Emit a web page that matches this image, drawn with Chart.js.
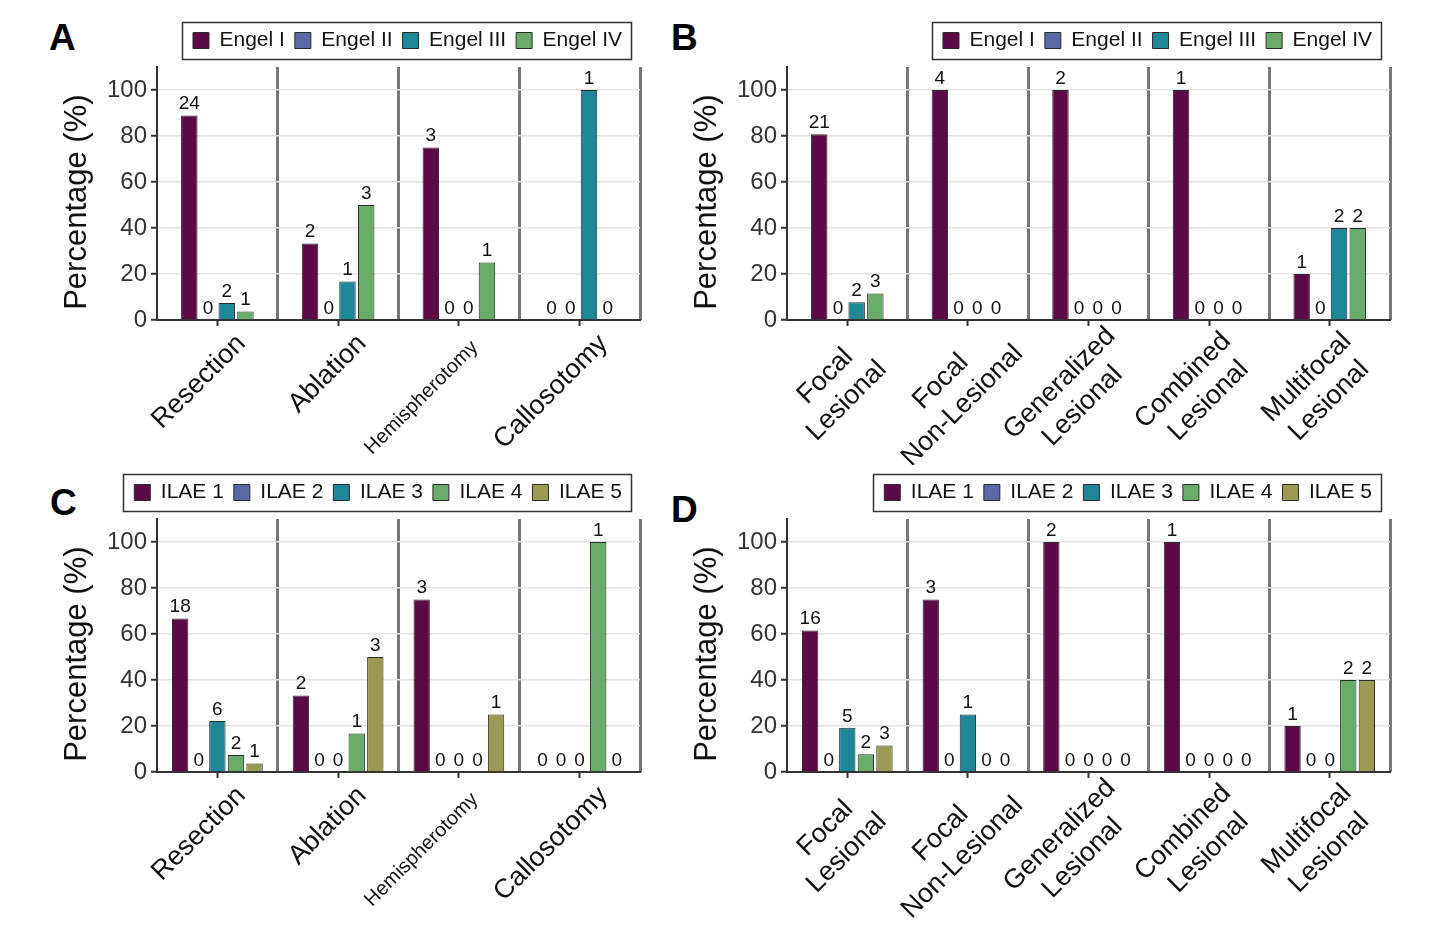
<!DOCTYPE html>
<html><head><meta charset="utf-8">
<script src="https://cdn.jsdelivr.net/npm/chart.js@4.4.1/dist/chart.umd.min.js"></script>
<style>
body{margin:0;background:#fff;width:1430px;height:929px;position:relative;overflow:hidden;font-family:'Liberation Sans',Arial,sans-serif}
.pl{position:absolute;font-weight:bold;font-size:37px;color:#000;line-height:1}
.cv{position:absolute}
</style></head><body>
<div class="pl" style="left:49px;top:19px">A</div>
<div class="pl" style="left:671px;top:19px">B</div>
<div class="pl" style="left:50px;top:484px">C</div>
<div class="pl" style="left:671px;top:491px">D</div>
<canvas class="cv" id="cA" width="615" height="465" style="left:40px;top:0px"></canvas>
<canvas class="cv" id="cB" width="735" height="465" style="left:670px;top:0px"></canvas>
<canvas class="cv" id="cC" width="615" height="477" style="left:40px;top:452px"></canvas>
<canvas class="cv" id="cD" width="735" height="477" style="left:670px;top:452px"></canvas>
<script>
// ---- categories / labels ----
const surgeryCategories = ['Resection', 'Ablation', 'Hemispherotomy', 'Callosotomy'];
const etiologyCategories = [['Focal', 'Lesional'], ['Focal', 'Non-Lesional'], ['Generalized', 'Lesional'], ['Combined', 'Lesional'], ['Multifocal', 'Lesional']];
const engelNames = ['Engel I', 'Engel II', 'Engel III', 'Engel IV'];
const ilaeNames = ['ILAE 1', 'ILAE 2', 'ILAE 3', 'ILAE 4', 'ILAE 5'];
const yTickValues = [0, 20, 40, 60, 80, 100];

// ---- Panel A: Engel by surgery type (percentage, count) ----
const aEngel1Pct = [88.9, 33.3, 75, 0];   const aEngel1N = [24, 2, 3, 0];
const aEngel2Pct = [0, 0, 0, 0];          const aEngel2N = [0, 0, 0, 0];
const aEngel3Pct = [7.4, 16.7, 0, 100];   const aEngel3N = [2, 1, 0, 1];
const aEngel4Pct = [3.7, 50, 25, 0];      const aEngel4N = [1, 3, 1, 0];

// ---- Panel B: Engel by etiology ----
const bEngel1Pct = [80.8, 100, 100, 100, 20]; const bEngel1N = [21, 4, 2, 1, 1];
const bEngel2Pct = [0, 0, 0, 0, 0];           const bEngel2N = [0, 0, 0, 0, 0];
const bEngel3Pct = [7.7, 0, 0, 0, 40];        const bEngel3N = [2, 0, 0, 0, 2];
const bEngel4Pct = [11.5, 0, 0, 0, 40];       const bEngel4N = [3, 0, 0, 0, 2];

// ---- Panel C: ILAE by surgery type ----
const cIlae1Pct = [66.7, 33.3, 75, 0];   const cIlae1N = [18, 2, 3, 0];
const cIlae2Pct = [0, 0, 0, 0];          const cIlae2N = [0, 0, 0, 0];
const cIlae3Pct = [22.2, 0, 0, 0];       const cIlae3N = [6, 0, 0, 0];
const cIlae4Pct = [7.4, 16.7, 0, 100];   const cIlae4N = [2, 1, 0, 1];
const cIlae5Pct = [3.7, 50, 25, 0];      const cIlae5N = [1, 3, 1, 0];

// ---- Panel D: ILAE by etiology ----
const dIlae1Pct = [61.5, 75, 100, 100, 20]; const dIlae1N = [16, 3, 2, 1, 1];
const dIlae2Pct = [0, 0, 0, 0, 0];          const dIlae2N = [0, 0, 0, 0, 0];
const dIlae3Pct = [19.2, 25, 0, 0, 0];      const dIlae3N = [5, 1, 0, 0, 0];
const dIlae4Pct = [7.7, 0, 0, 0, 40];       const dIlae4N = [2, 0, 0, 0, 2];
const dIlae5Pct = [11.5, 0, 0, 0, 40];      const dIlae5N = [3, 0, 0, 0, 2];

const engelColors = ['#5c0a46', '#5b68a6', '#1e8797', '#69ab69'];
const ilaeColors = ['#5c0a46', '#5b68a6', '#1e8797', '#69ab69', '#9c9a52'];

const FONT = "'Liberation Sans', Arial, sans-serif";
const XFONT = 27;
const XFONT_SMALL = 20;

// text measuring helper (only used to justify multi-line tick labels)
const measureCtx = document.createElement('canvas').getContext('2d');
function textW(s, size) { measureCtx.font = size + 'px ' + FONT; return measureCtx.measureText(s).width; }
function blockW(lines, size) { return Math.max.apply(null, lines.map(s => textW(s, size))); }
const etiologyMaxW = Math.max.apply(null, etiologyCategories.map(l => blockW(l, XFONT)));
// centre the lines of a two-line label; shorter blocks are nudged back along the text
function centerLines(lines, size) {
  const w = lines.map(s => textW(s, size));
  const maxW = Math.max.apply(null, w);
  const sp = textW(' ', size);
  const extra = Math.round(0.35 * (etiologyMaxW - maxW) / sp);
  return lines.map((s, i) => s + ' '.repeat(Math.max(0, Math.round((maxW - w[i]) / 2 / sp)) + extra));
}

const countLabels = {
  id: 'countLabels',
  afterDatasetsDraw(chart) {
    const ctx = chart.ctx;
    ctx.save();
    ctx.font = '19px ' + FONT;
    ctx.fillStyle = '#111';
    ctx.textAlign = 'center';
    ctx.textBaseline = 'bottom';
    chart.data.datasets.forEach((ds, i) => {
      const meta = chart.getDatasetMeta(i);
      meta.data.forEach((el, j) => {
        ctx.fillText(String(ds.counts[j]), el.x, el.y - 2);
      });
    });
    ctx.restore();
  }
};

const LEGEND_SHIFT = 8;
const legendBox = {
  id: 'legendBox',
  afterUpdate(chart) {
    const lg = chart.legend;
    if (!lg || !lg.legendHitBoxes) return;
    lg.left -= LEGEND_SHIFT;
    lg.right -= LEGEND_SHIFT;
    lg.legendHitBoxes.forEach(h => { h.left -= LEGEND_SHIFT; });
  },
  afterDraw(chart) {
    const lg = chart.legend;
    if (!lg || !lg.legendHitBoxes || !lg.legendHitBoxes.length) return;
    let l = Infinity, r = -Infinity, t = Infinity, b = -Infinity;
    lg.legendHitBoxes.forEach(h => {
      l = Math.min(l, h.left); r = Math.max(r, h.left + h.width);
      t = Math.min(t, h.top); b = Math.max(b, h.top + h.height);
    });
    const ctx = chart.ctx;
    ctx.save();
    ctx.strokeStyle = '#333';
    ctx.lineWidth = 1.5;
    ctx.strokeRect(Math.round(l - 11) + 0.5, Math.round(t - 8) + 0.5, Math.round(r - l + 20), Math.round(b - t + 16));
    ctx.restore();
  }
};

function makeChart(id, labels, names, pcts, counts, colors, catPct, smallIdx, canvasH, labelShift, labelPad) {
  const datasets = names.map((n, i) => ({
    label: n,
    data: pcts[i],
    counts: counts[i],
    backgroundColor: colors[i],
    borderColor: '#2a2a2a',
    borderWidth: ctx => (ctx.raw === 0 ? 0 : 1),
    categoryPercentage: catPct,
    barPercentage: 0.88
  }));
  const nCat = labels.length;
  return new Chart(document.getElementById(id), {
    type: 'bar',
    data: { labels: labels, datasets: datasets },
    plugins: [countLabels, legendBox],
    options: {
      responsive: false,
      animation: false,
      devicePixelRatio: 1,
      layout: { padding: { top: 20, right: 15, left: 0, bottom: 0 } },
      plugins: {
        tooltip: { enabled: false },
        legend: {
          position: 'top',
          align: 'end',
          labels: {
            boxWidth: 16, boxHeight: 16, padding: 10,
            color: '#111',
            font: { family: FONT, size: 21 },
            generateLabels(chart) {
              return chart.data.datasets.map((ds, i) => ({
                text: ds.label, fillStyle: ds.backgroundColor, strokeStyle: '#2a2a2a',
                lineWidth: 1, hidden: false, datasetIndex: i, fontColor: '#111'
              }));
            }
          }
        }
      },
      scales: {
        xsep: {
          type: 'category', axis: 'x', position: 'top', offset: true,
          grid: {
            offset: true, drawTicks: false, lineWidth: 3,
            color: ctx => (ctx.index === 0 || ctx.index === nCat ? 'rgba(0,0,0,0)' : '#777')
          },
          border: { display: false },
          ticks: { display: false },
          afterFit(scale) { scale.height = 6; }
        },
        x: {
          offset: true,
          grid: { offset: false, drawOnChartArea: false, drawTicks: true, tickLength: 6, tickColor: '#333', tickWidth: 2, color: '#333' },
          border: { display: true, color: '#333', width: 2 },
          ticks: {
            minRotation: 45, maxRotation: 45, color: '#111', padding: labelPad, autoSkip: false,
            labelOffset: labelShift,
            font: ctx => ({ family: FONT, size: smallIdx.includes(ctx.index) ? XFONT_SMALL : XFONT }),
            callback(value, index) {
              const l = this.getLabelForValue(value);
              if (Array.isArray(l)) return centerLines(l, XFONT);
              return smallIdx.includes(index) ? l + '  ' : l;
            }
          },
          afterFit(scale) { scale.height = canvasH - 320; }
        },
        y: {
          min: 0, max: 110,
          afterBuildTicks(scale) { scale.ticks = yTickValues.map(v => ({ value: v })); },
          grid: { color: '#e2e2e2', lineWidth: 1.5, tickColor: '#333', tickLength: 6, tickWidth: 2 },
          border: { display: true, color: '#333', width: 2 },
          ticks: { color: '#333', font: { family: FONT, size: 24 }, padding: 4 },
          title: { display: true, text: 'Percentage (%)  ', color: '#111', font: { family: FONT, size: 31 }, padding: { top: 19, bottom: 0 } },
          afterFit(scale) { scale.width = 117; }
        }
      }
    }
  });
}

makeChart('cA', surgeryCategories, engelNames,
  [aEngel1Pct, aEngel2Pct, aEngel3Pct, aEngel4Pct],
  [aEngel1N, aEngel2N, aEngel3N, aEngel4N], engelColors, 0.62, [2], 465, 24, 2);
makeChart('cB', etiologyCategories, engelNames,
  [bEngel1Pct, bEngel2Pct, bEngel3Pct, bEngel4Pct],
  [bEngel1N, bEngel2N, bEngel3N, bEngel4N], engelColors, 0.62, [], 465, 28, -11);
makeChart('cC', surgeryCategories, ilaeNames,
  [cIlae1Pct, cIlae2Pct, cIlae3Pct, cIlae4Pct, cIlae5Pct],
  [cIlae1N, cIlae2N, cIlae3N, cIlae4N, cIlae5N], ilaeColors, 0.77, [2], 477, 24, 2);
makeChart('cD', etiologyCategories, ilaeNames,
  [dIlae1Pct, dIlae2Pct, dIlae3Pct, dIlae4Pct, dIlae5Pct],
  [dIlae1N, dIlae2N, dIlae3N, dIlae4N, dIlae5N], ilaeColors, 0.77, [], 477, 28, -11);
</script>
</body></html>
